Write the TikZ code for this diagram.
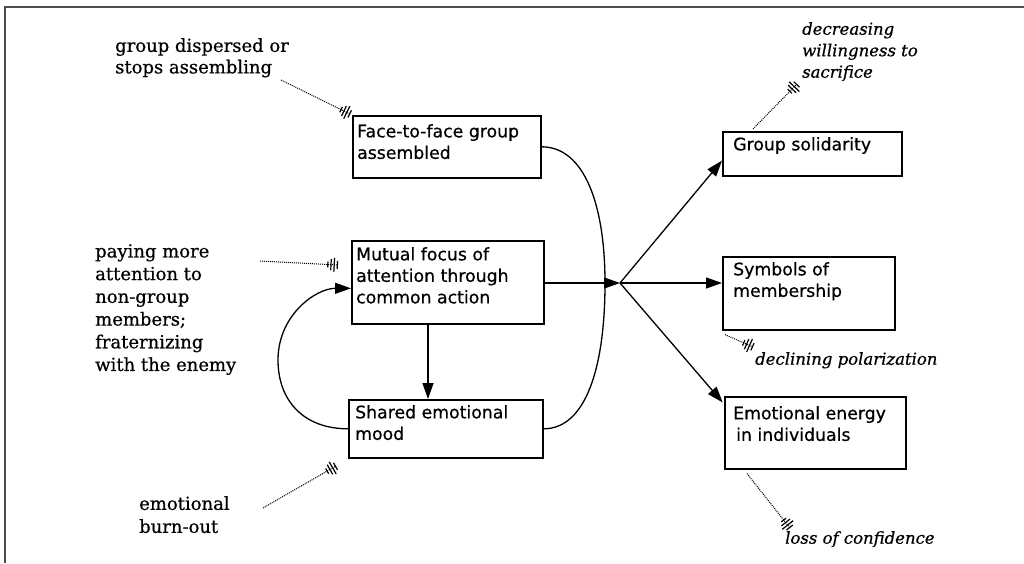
\documentclass[tikz,border=0pt]{standalone}
\usepackage{fontspec}
\newfontfamily\boxfont[FakeBold=0.6]{DejaVu Sans}
\newfontfamily\notefont[FakeBold=0.6]{DejaVu Serif}
\usetikzlibrary{arrows.meta,calc}
\begin{document}
\begin{tikzpicture}[x=1pt,y=-1pt,
  box/.style={draw, line width=1.6pt, inner sep=0pt, anchor=north west},
  btxt/.style={anchor=north west, inner sep=0pt, align=left, font=\boxfont\fontsize{17.3}{21.5}\selectfont},
  note/.style={anchor=north west, inner sep=0pt, align=left, font=\notefont\fontsize{18}{21.5}\selectfont},
  inote/.style={anchor=north west, inner sep=0pt, align=left, font=\notefont\itshape\fontsize{16.5}{21.5}\selectfont},
  flow/.style={line width=1.3pt, -{Triangle[length=16pt,width=11pt]}},
  link/.style={line width=1.3pt},
  hair/.style={densely dotted, line width=1pt, -{Bar[width=6pt,sep=2pt,line width=1.2pt]Bar[width=11pt,sep=2pt,line width=1.2pt]Bar[width=14pt,sep=2pt,line width=1.2pt]Bar[width=8pt,line width=1.2pt]}},
]
\useasboundingbox (0,0) rectangle (1024,563);
\draw[black!70, line width=1.5pt] (5,563) -- (5,7) -- (1024,7);

% boxes
\node[box, minimum width=188pt, minimum height=62pt,
  label={[btxt, xshift=5pt, yshift=-9pt]north west:{Face-to-face group\\assembled}}] (face) at (352,115) {};
\node[box, minimum width=192pt, minimum height=83pt,
  label={[btxt, xshift=5pt, yshift=-7pt]north west:{Mutual focus of\\attention through\\common action}}] (mu) at (351,240) {};
\node[box, minimum width=194pt, minimum height=58pt,
  label={[btxt, xshift=7pt, yshift=-6pt]north west:{Shared emotional\\mood}}] (sh) at (348,399) {};
\node[box, minimum width=179pt, minimum height=44pt,
  label={[btxt, xshift=11pt, yshift=-6pt]north west:{Group solidarity}}] (gs) at (722,131) {};
\node[box, minimum width=172pt, minimum height=73pt,
  label={[btxt, xshift=11pt, yshift=-6pt]north west:{Symbols of\\membership}}] (sy) at (722,256) {};
\node[box, minimum width=181pt, minimum height=72pt,
  label={[btxt, xshift=9pt, yshift=-10pt]north west:{Emotional energy\\\hspace{3pt}in individuals}}] (ee) at (724,396) {};

% annotations
\node[note] (n1) at (115,38) {group dispersed or\\stops assembling};
\node[note, font=\notefont\fontsize{18}{22.7}\selectfont] (n2) at (95,244) {paying more\\attention to\\non-group\\members;\\fraternizing\\with the enemy};
\node[note, font=\notefont\fontsize{18}{23}\selectfont] (n3) at (139,496) {emotional\\burn-out};
\node[inote] (n4) at (802,22) {decreasing\\willingness to\\sacrifice};
\node[inote] (n5) at (755,352) {declining polarization};
\node[inote] (n6) at (785,531) {loss of confidence};

% junction
\coordinate (J) at (620,283);
\coordinate (jc) at (605,283);
\coordinate (lp) at (278,360);

\draw[flow] (mu.east |- J) -- (J);
\draw[link] (face.east) .. controls +(42,0) and +(0,-80) .. (jc)
            .. controls +(0,85) and +(42,0) .. (sh.east);
\draw[flow] (J) -- ($(gs.south west)!0.35!(gs.north west)$);
\draw[flow] (J) -- (sy.west |- J);
\draw[flow, shorten >=2pt] (J) -- ($(ee.north west)+(0,8)$);
\draw[flow] (mu.south -| 428,0) -- (sh.north -| 428,0);
\draw[flow] (sh.west) .. controls +(-45,0) and +(0,40) .. (lp)
            .. controls +(0,-45) and +(-35,0) .. ($(mu.west)+(0,6)$);

% dotted influences
\coordinate (h1s) at (281,80);
\coordinate (h2s) at (260,261);
\coordinate (h2e) at (338,265);
\coordinate (h3s) at (263,508);
\coordinate (h3e) at (336,466);
\coordinate (h4e) at (797,84);
\coordinate (h5e) at (753,347);
\coordinate (h6e) at (790,528);
\draw[hair, shorten >=2pt] (h1s) -- (face.north west);
\draw[hair] (h2s) -- (h2e);
\draw[hair] (h3s) -- (h3e);
\draw[hair] ($(gs.north west)+(31,-2)$) -- (h4e);
\draw[hair] ($(sy.south west)+(3,4)$) -- (h5e);
\draw[hair] ($(ee.south west)+(23,4)$) -- (h6e);
\end{tikzpicture}
\end{document}
